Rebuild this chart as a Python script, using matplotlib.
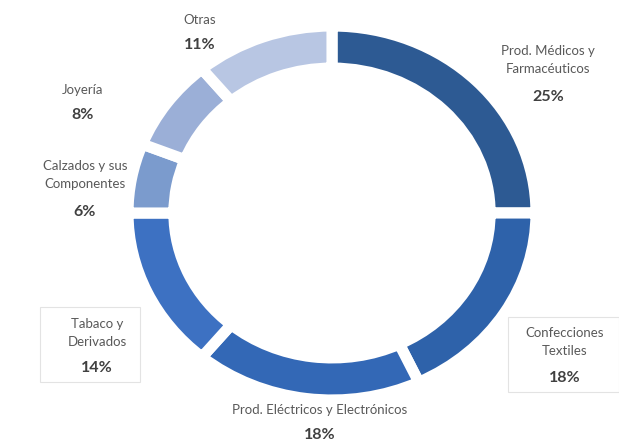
import numpy as np
import matplotlib
matplotlib.use('Agg')
import matplotlib.pyplot as plt
from matplotlib.patches import Rectangle

# sectors, clockwise from 12 o'clock
names = ['Prod. Médicos y\nFarmacéuticos', 'Confecciones\nTextiles',
         'Prod. Eléctricos y Electrónicos', 'Tabaco y\nDerivados',
         'Calzados y sus\nComponentes', 'Joyería', 'Otras']
shares = [25, 18, 18, 14, 6, 8, 11]
pct_labels = ['25%', '18%', '18%', '14%', '6%', '8%', '11%']
colors = ['#2D5A93', '#2E62AA', '#3368B6', '#3D71C2', '#7B9BCD', '#9BAFD7', '#B8C6E3']

W, H = 619, 445
fig = plt.figure(figsize=(W / 100, H / 100), dpi=100)

# ring centre (332, 213) px, radii 204 x 187 px
cx, cy, rx, ry = 332, 213, 204, 187
ax = fig.add_axes([(cx - rx) / W, (H - cy - ry) / H, 2 * rx / W, 2 * ry / H])
ax.pie(shares, colors=colors, startangle=90, counterclock=False,
       radius=1.0, wedgeprops=dict(width=0.225, edgecolor='white', linewidth=8))
ax.set_aspect('auto')
ax.set_xlim(-1, 1)
ax.set_ylim(-1, 1)
ax.axis('off')

def fx(px):
    return px / W

def fy(py):
    return 1 - py / H

# label name centre / pct centre, in pixels
name_pos = [(548, 60), (565, 342), (320, 410), (97, 333), (85, 175), (83, 90), (200, 20)]
pct_pos = [(548, 97), (565, 378), (320, 435), (97, 368), (85, 212), (83, 115), (200, 45)]

fam = ['Lato', 'DejaVu Sans']
for n, p, (nx, ny), (px, py) in zip(names, pct_labels, name_pos, pct_pos):
    fig.text(fx(nx), fy(ny), n, ha='center', va='center', fontsize=9.5,
             color='#595959', family=fam, linespacing=1.55)
    fig.text(fx(px), fy(py), p, ha='center', va='center', fontsize=11.5,
             fontweight='bold', color='#404040', family=fam)

# light boxes around two labels
for (x0, y0, x1, y1) in [(40, 307, 140, 382), (508, 317, 619, 392)]:
    fig.patches.append(Rectangle((fx(x0), fy(y1)), fx(x1) - fx(x0), fy(y0) - fy(y1),
                                 transform=fig.transFigure, fill=False,
                                 edgecolor='#E3E3E3', linewidth=0.8))

fig.savefig('out.png', dpi=100, facecolor='white')
